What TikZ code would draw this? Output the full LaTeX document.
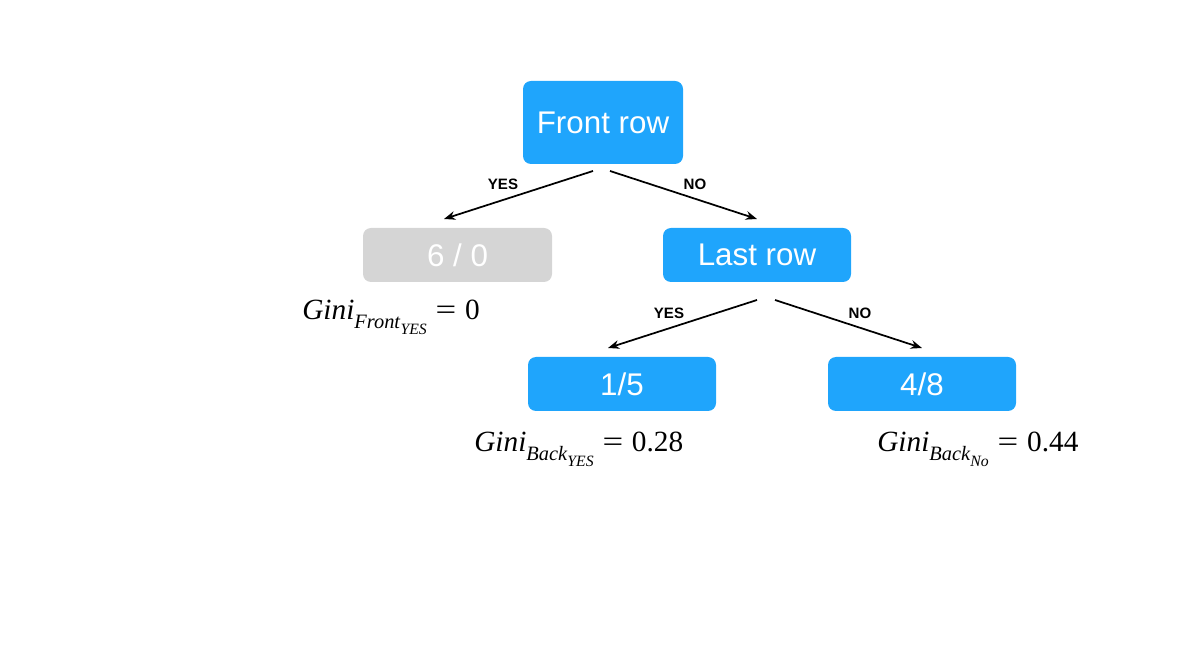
\documentclass[tikz,border=0pt]{standalone}
\usepackage{fontspec}
\setmainfont{Liberation Serif}
\setsansfont{Liberation Sans}
\usetikzlibrary{arrows.meta}
\definecolor{boxblue}{HTML}{1FA5FC}
\definecolor{boxgray}{HTML}{D5D5D5}
\tikzset{
  treebox/.style={fill=boxblue, rounded corners=6pt, text=white, inner sep=0pt,
    font=\sffamily\fontsize{23.5}{26}\selectfont},
  graybox/.style={treebox, fill=boxgray},
  edge/.style={line width=1.3pt, -{Stealth[length=8.5pt,width=6.5pt]}},
  lbl/.style={font=\sffamily\bfseries\fontsize{11.3}{13}\selectfont, inner sep=0pt},
  gini/.style={anchor=base west, inner sep=0pt, font=\fontsize{22}{26}\selectfont},
}
\newcommand{\giniexpr}[3]{\textit{Gini}\raisebox{-0.3em}{\fontsize{15.3}{17}\selectfont\textit{#1}\raisebox{-0.28em}{\fontsize{11.8}{13}\selectfont\textit{#2}}}\hspace{0.3em}\scalebox{1.25}[1]{=}\hspace{0.3em}#3}
\begin{document}
\begin{tikzpicture}[x=0.75pt,y=-0.75pt]
\useasboundingbox (0,0) rectangle (1190,648);
\node[treebox, minimum width=120pt, minimum height=62.25pt] (front) at (603,122.5) {Front row};
\node[graybox, minimum width=141.75pt, minimum height=40.5pt] (g60) at (457.5,255) {6 / 0};
\node[treebox, minimum width=141pt, minimum height=40.5pt] (last) at (757,255) {Last row};
\node[treebox, minimum width=141pt, minimum height=40.5pt] (b15) at (622,384) {1/5};
\node[treebox, minimum width=141pt, minimum height=40.5pt] (b48) at (922,384) {4/8};

\coordinate (f1) at (593,171);
\coordinate (f2) at (610,171);
\coordinate (t1) at (444,219);
\coordinate (t2) at (757,219);
\coordinate (l1) at (757,300);
\coordinate (l2) at (775,300);
\coordinate (t3) at (608,348);
\coordinate (t4) at (922,348);
\draw[edge] (f1) -- (t1);
\draw[edge] (f2) -- (t2);
\draw[edge] (l1) -- (t3);
\draw[edge] (l2) -- (t4);

\node[lbl] (y1) at (503,184) {YES};
\node[lbl] (n1) at (695,184) {NO};
\node[lbl] (y2) at (669,313) {YES};
\node[lbl] (n2) at (860,313) {NO};

\node[gini] (gf) at (302,320) {\giniexpr{Front}{YES}{0}};
\node[gini] (gby) at (474,452) {\giniexpr{Back}{YES}{0.28}};
\node[gini] (gbn) at (877,452) {\giniexpr{Back}{No}{0.44}};
\end{tikzpicture}
\end{document}
